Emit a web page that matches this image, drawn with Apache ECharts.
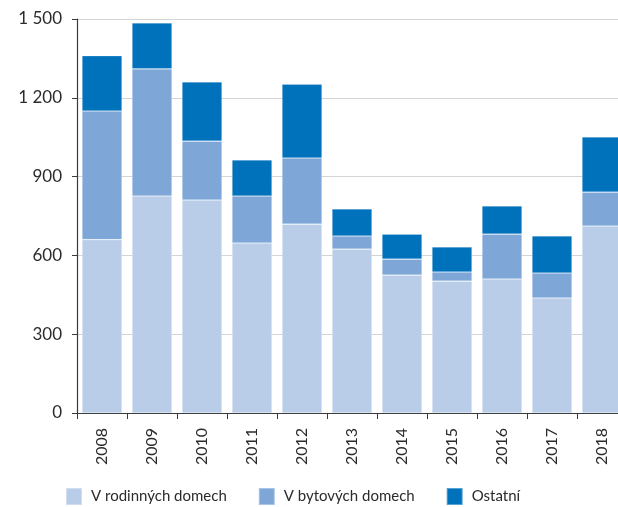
<!DOCTYPE html>
<html>
<head>
<meta charset="utf-8">
<script src="https://cdn.jsdelivr.net/npm/echarts@6/dist/echarts.min.js"></script>
<style>
  html, body { margin: 0; padding: 0; background: #fff; }
  #main { width: 618px; height: 507px; }
</style>
</head>
<body>
<div id="main"></div>
<script>
// years and stacked values
var years = ['2008', '2009', '2010', '2011', '2012', '2013', '2014', '2015', '2016', '2017', '2018'];
var rodinne = [660, 826, 811, 647, 719, 624, 525, 502, 510, 438, 712];
var bytove = [490, 484, 224, 179, 252, 50, 61, 35, 171, 95, 129];
var ostatni = [210, 175, 225, 137, 281, 103, 95, 95, 107, 141, 210];
var yTicks = [0, 300, 600, 900, 1200, 1500];

var chart = echarts.init(document.getElementById('main'));
var fontFam = 'Lato, "Open Sans", sans-serif';

function barSeries(name, data, color) {
  return {
    name: name,
    type: 'bar',
    stack: 'total',
    data: data,
    barCategoryGap: '20%',
    itemStyle: { color: color, borderColor: 'rgba(255,255,255,0.35)', borderWidth: 0.6 }
  };
}

var option = {
  animation: false,
  textStyle: { fontFamily: fontFam },
  grid: { left: 77, top: 19, height: 394, width: 550, outerBoundsMode: 'none', containLabel: false },
  legend: {
    bottom: -4,
    left: 60,
    icon: 'rect',
    itemWidth: 16,
    itemHeight: 17,
    itemGap: 31,
    textStyle: { fontSize: 15, color: '#2b2b2b', fontFamily: fontFam, padding: [0, 0, 0, 4] },
    data: ['V rodinných domech', 'V bytových domech', 'Ostatní']
  },
  xAxis: {
    type: 'category',
    data: years,
    axisLine: { lineStyle: { color: '#3a3a3a', width: 1.2 } },
    axisTick: { show: true, length: 6, lineStyle: { color: '#3a3a3a' } },
    axisLabel: { rotate: 90, fontSize: 16, color: '#2b2b2b', margin: 15, fontFamily: fontFam }
  },
  yAxis: {
    type: 'value',
    min: 0,
    max: 1500,
    interval: 300,
    axisLine: { show: true, lineStyle: { color: '#3a3a3a', width: 1.2 } },
    axisTick: { show: true, length: 5, lineStyle: { color: '#3a3a3a' } },
    splitLine: { lineStyle: { color: '#d4d4d4', width: 1.2 } },
    axisLabel: {
      fontSize: 17, color: '#2b2b2b', margin: 15, fontFamily: fontFam,
      formatter: function (v) {
        return yTicks.indexOf(v) >= 0 ? String(v).replace(/\B(?=(\d{3})+(?!\d))/g, ' ') : '';
      }
    }
  },
  series: [
    barSeries('V rodinných domech', rodinne, '#b9cde9'),
    barSeries('V bytových domech', bytove, '#7ea7d8'),
    barSeries('Ostatní', ostatni, '#0071bb')
  ]
};

chart.setOption(option);
</script>
</body>
</html>
